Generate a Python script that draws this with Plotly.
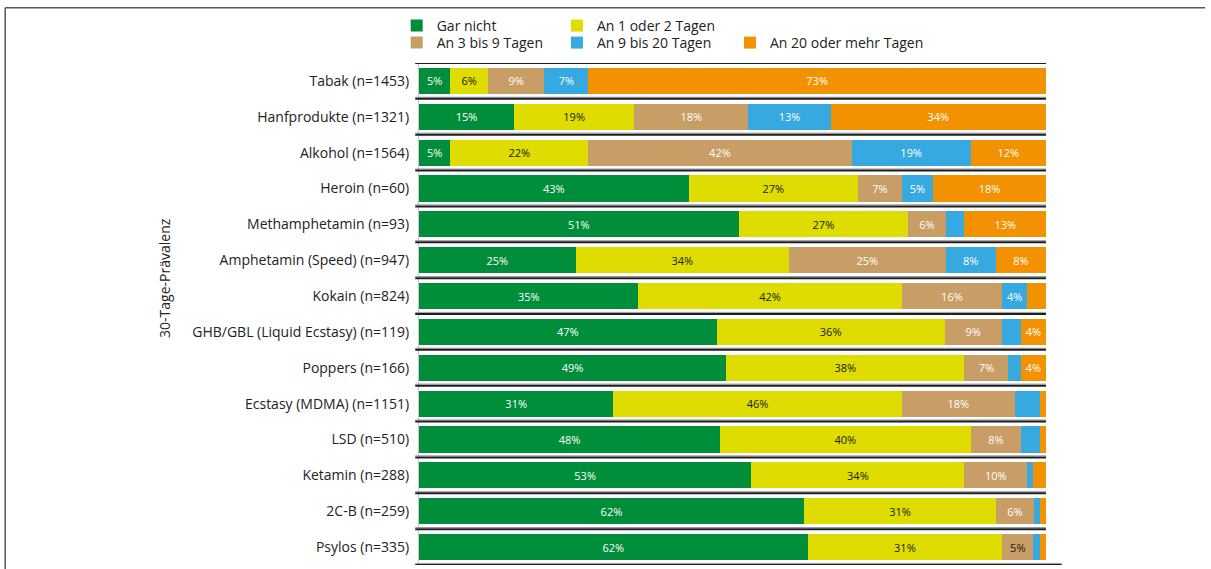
import plotly.graph_objects as go

categories = [
    "Tabak (n=1453)", "Hanfprodukte (n=1321)", "Alkohol (n=1564)", "Heroin (n=60)",
    "Methamphetamin (n=93)", "Amphetamin (Speed) (n=947)", "Kokain (n=824)",
    "GHB/GBL (Liquid Ecstasy) (n=119)", "Poppers (n=166)", "Ecstasy (MDMA) (n=1151)",
    "LSD (n=510)", "Ketamin (n=288)", "2C-B (n=259)", "Psylos (n=335)",
]
series_names = ["Gar nicht", "An 1 oder 2 Tagen", "An 3 bis 9 Tagen",
                "An 9 bis 20 Tagen", "An 20 oder mehr Tagen"]
gar_nicht = [5, 15, 5, 43, 51, 25, 35, 47, 49, 31, 48, 53, 62, 62]
tage_1_2 = [6, 19, 22, 27, 27, 34, 42, 36, 38, 46, 40, 34, 31, 31]
tage_3_9 = [9, 18, 42, 7, 6, 25, 16, 9, 7, 18, 8, 10, 6, 5]
tage_9_20 = [7, 13, 19, 5, 3, 8, 4, 3, 2, 4, 3, 1, 1, 1]
tage_20_plus = [73, 34, 12, 18, 13, 8, 3, 4, 4, 1, 1, 2, 1, 1]
y_title = "30-Tage-Prävalenz"

series_values = [gar_nicht, tage_1_2, tage_3_9, tage_9_20, tage_20_plus]
colors = ["#008E3A", "#DEDC00", "#C89D66", "#36A9E1", "#F39200"]
text_colors = ["white", "#1a1a1a", "white", "white", "white"]
hide_labels = {(9, 3)}  # label not printed in the original

n = len(categories)
ypos = list(range(n))
row_totals = [sum(col) for col in zip(*series_values)]

# legend placement: (legend id, x paper, y paper)
legend_slots = [("legend", -0.0356, 1.1056), ("legend2", 0.220, 1.1056),
                ("legend3", -0.0356, 1.0717), ("legend4", 0.220, 1.0717),
                ("legend5", 0.496, 1.0717)]

fig = go.Figure()
for s, (name, vals) in enumerate(zip(series_names, series_values)):
    shares = [v / t * 100 for v, t in zip(vals, row_totals)]
    texts = [f"{v}%" if (v >= 4 and (i, s) not in hide_labels) else "" for i, v in enumerate(vals)]
    tcol = [text_colors[s]] * n
    if s == 2:
        tcol[13] = "#1a1a1a"
    fig.add_trace(go.Bar(
        y=ypos, x=shares, name=name, orientation="h",
        marker=dict(color=colors[s], line=dict(width=0)),
        text=texts, textposition="inside", insidetextanchor="middle",
        textangle=0,
        insidetextfont=dict(family="Open Sans", size=11, color=tcol),
        legend=legend_slots[s][0], hoverinfo="skip",
    ))

shapes = []
for k in range(n + 1):
    yb = k - 0.5
    x1 = 1.0 if k < n else 1.025
    shapes.append(dict(type="line", xref="paper", yref="y", x0=-0.006, x1=x1,
                       y0=yb - 0.045, y1=yb - 0.045, line=dict(color="#9a9a9a", width=1)))
    shapes.append(dict(type="line", xref="paper", yref="y", x0=-0.006, x1=x1,
                       y0=yb, y1=yb, line=dict(color="#1e1e1e", width=2)))

# outer frame (top + left edge)
shapes.append(dict(type="line", xref="paper", yref="paper", x0=-0.660, x1=1.2536,
                   y0=1.110, y1=1.110, line=dict(color="#555", width=1.5)))
shapes.append(dict(type="line", xref="paper", yref="paper", x0=-0.660, x1=-0.660,
                   y0=1.110, y1=-0.02, line=dict(color="#555", width=1.5)))

legend_font = dict(family="Open Sans", size=14, color="#222")
layout_legends = {}
for lid, lx, ly in legend_slots:
    layout_legends[lid] = dict(x=lx, y=ly, orientation="v", yanchor="top", xanchor="left",
                               font=legend_font, bgcolor="rgba(0,0,0,0)",
                               traceorder="normal", itemclick=False)

fig.update_layout(
    width=1211, height=569,
    margin=dict(l=419, r=165, t=63, b=4, autoexpand=False),
    barmode="stack", bargap=0.27,
    paper_bgcolor="white", plot_bgcolor="white",
    font=dict(family="Open Sans", size=14, color="#222"),
    xaxis=dict(range=[0, 100], showgrid=False, showticklabels=False, zeroline=False,
               showline=False, fixedrange=True),
    yaxis=dict(range=[n - 0.5, -0.5], tickvals=ypos, ticktext=categories,
               showgrid=False, zeroline=False, showline=True, linecolor="#c8c8c8",
               linewidth=1, ticks="", ticklabelstandoff=6,
               tickfont=dict(family="Open Sans", size=14, color="#222")),
    shapes=shapes,
    annotations=[dict(text=y_title, xref="paper", yref="paper", x=-0.405, y=0.572,
                      xanchor="center", yanchor="middle",
                      textangle=-90, showarrow=False,
                      font=dict(family="Open Sans", size=14, color="#222"))],
    showlegend=True,
    **layout_legends,
)

fig.write_html("out.html", config={"displayModeBar": False},
               post_script="document.body.style.margin='0';")
